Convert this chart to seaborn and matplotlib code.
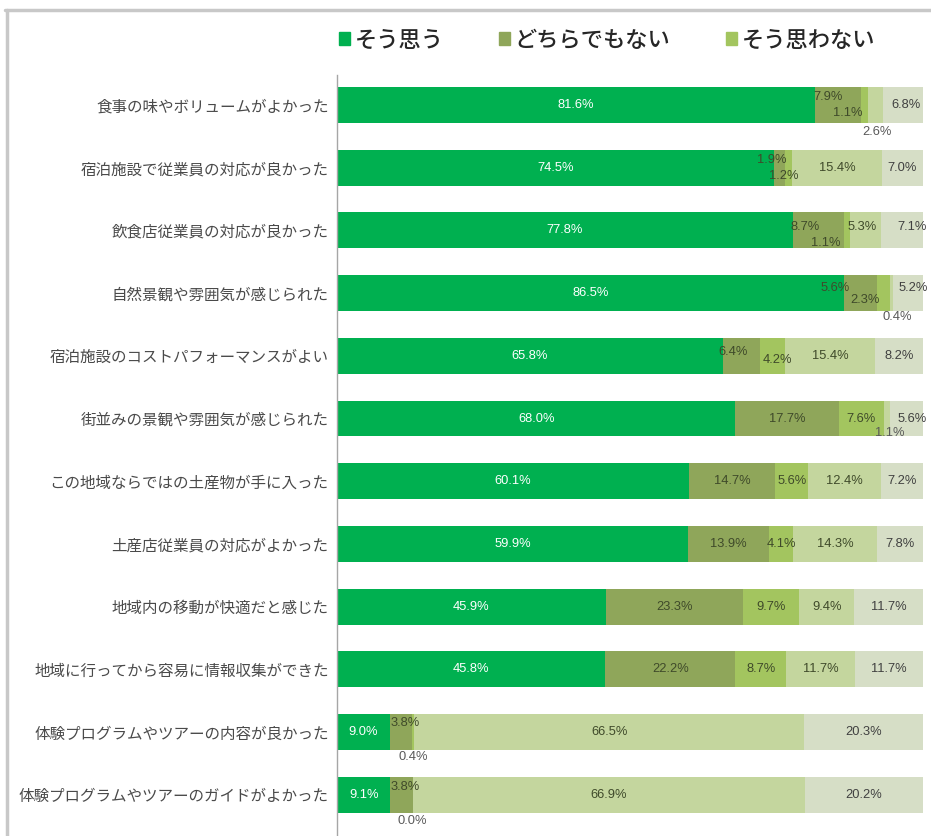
import numpy as np
import pandas as pd
import seaborn as sns
import matplotlib.pyplot as plt
from matplotlib.patches import Patch
from matplotlib.lines import Line2D

# --- data -------------------------------------------------------------
categories = [
    "食事の味やボリュームがよかった",
    "宿泊施設で従業員の対応が良かった",
    "飲食店従業員の対応が良かった",
    "自然景観や雰囲気が感じられた",
    "宿泊施設のコストパフォーマンスがよい",
    "街並みの景観や雰囲気が感じられた",
    "この地域ならではの土産物が手に入った",
    "土産店従業員の対応がよかった",
    "地域内の移動が快適だと感じた",
    "地域に行ってから容易に情報収集ができた",
    "体験プログラムやツアーの内容が良かった",
    "体験プログラムやツアーのガイドがよかった",
]
series_names = ["そう思う", "どちらでもない", "そう思わない", "利用していない", "無回答"]
agree   = [81.6, 74.5, 77.8, 86.5, 65.8, 68.0, 60.1, 59.9, 45.9, 45.8, 9.0, 9.1]
neutral = [7.9, 1.9, 8.7, 5.6, 6.4, 17.7, 14.7, 13.9, 23.3, 22.2, 3.8, 3.8]
disagree = [1.1, 1.2, 1.1, 2.3, 4.2, 7.6, 5.6, 4.1, 9.7, 8.7, 0.4, 0.0]
not_used = [2.6, 15.4, 5.3, 0.4, 15.4, 1.1, 12.4, 14.3, 9.4, 11.7, 66.5, 66.9]
no_answer = [6.8, 7.0, 7.1, 5.2, 8.2, 5.6, 7.2, 7.8, 11.7, 11.7, 20.3, 20.2]

# --- styles -----------------------------------------------------------
colors = ["#00B050", "#8FA65A", "#A3C55F", "#C4D69E", "#D6DEC6"]
label_colors = ["white", "#3F4A2A", "#3F4A2A", "#3F4A2A", "#404040"]
# manual nudges for crowded labels: (row, segment) -> (dx in %, dy in rows)
nudge = {
    (0, 1): (-1.7, -0.13), (0, 2): (-2.9, 0.13), (0, 3): (0.2, 0.43), (0, 4): (0.5, 0),
    (1, 1): (-1.2, -0.13), (1, 2): (-0.7, 0.13),
    (2, 1): (-2.2, -0.05), (2, 2): (-3.6, 0.2), (2, 3): (-0.7, -0.05), (2, 4): (1.7, -0.05),
    (3, 1): (-4.3, -0.08), (3, 2): (-3.1, 0.11), (3, 3): (1.0, 0.38), (3, 4): (0.9, -0.08),
    (4, 1): (-1.4, -0.06), (4, 2): (0.9, 0.06),
    (5, 3): (0.5, 0.23), (5, 4): (1.0, 0),
    (10, 1): (0.7, -0.15), (10, 2): (0.0, 0.4),
    (11, 1): (0.7, -0.12), (11, 2): (0.0, 0.42),
}
below = {(0, 3), (3, 3), (5, 3), (10, 2), (11, 2)}

sns.set_style("white")
plt.rcParams["font.family"] = ["Noto Sans CJK JP", "DejaVu Sans"]

values = np.array([agree, neutral, disagree, not_used, no_answer]).T
cum = values.cumsum(axis=1)
df = pd.DataFrame(cum, columns=series_names)
df["category"] = categories

fig = plt.figure(figsize=(9.31, 8.36), dpi=100)
ax = fig.add_axes([337 / 931, 0.0, 586 / 931, (836 - 75) / 836])

bar_h = 0.574
for i in reversed(range(len(series_names))):
    sns.barplot(data=df, x=series_names[i], y="category", color=colors[i],
                width=bar_h, saturation=1, orient="h", ax=ax, edgecolor="none")

for r in range(len(categories)):
    for s in range(len(series_names)):
        v = values[r, s]
        x = cum[r, s] - v / 2
        dx, dy = nudge.get((r, s), (0, 0))
        c = "#595959" if (r, s) in below else label_colors[s]
        ax.text(x + dx, r + dy, f"{v:.1f}%", ha="center", va="center",
                fontsize=9.3, color=c, family=["Liberation Sans", "DejaVu Sans"])

ax.set_xlim(0, 100)
ax.set_ylim((836 - 105) / 62.7, (75 - 105) / 62.7)
ax.set_xlabel("")
ax.set_ylabel("")
ax.set_xticks([])
ax.tick_params(axis="y", length=0, pad=6, labelsize=11.2, labelcolor="#4A4A4A")
for side in ["top", "right", "bottom"]:
    ax.spines[side].set_visible(False)
ax.spines["left"].set_color("#A6A6A6")
ax.spines["left"].set_linewidth(1)

handles = [Patch(color=colors[i]) for i in range(3)]
fig.legend(handles, series_names[:3], loc="center", bbox_to_anchor=(0.652, 0.952),
           ncol=3, frameon=False, handlelength=0.5, handleheight=0.5,
           handletextpad=0.2, columnspacing=2.5,
           prop={"family": ["Noto Sans CJK JP", "DejaVu Sans"], "size": 16, "weight": "medium"})

# outer frame (left and top edges visible)
fig.add_artist(Line2D([5 / 931, 1], [1 - 10 / 836] * 2, color="#C8C8C8", lw=2.5))
fig.add_artist(Line2D([7 / 931] * 2, [0, 1 - 10 / 836], color="#C8C8C8", lw=2.5))

fig.savefig("out.png", dpi=100)
